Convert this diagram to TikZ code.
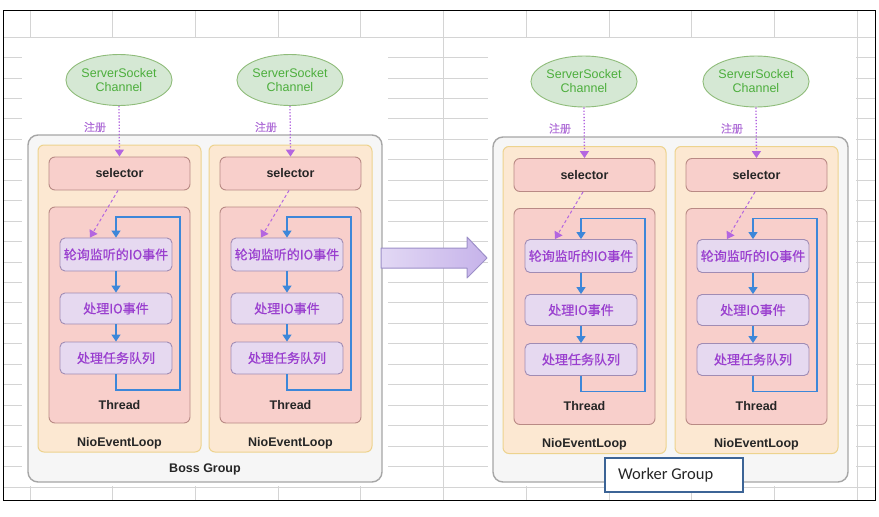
\documentclass[tikz,border=0pt]{standalone}
\usepackage{fontspec}
\setmainfont{Liberation Sans}
\newfontfamily\cjk[FakeBold=0.8]{Noto Sans CJK SC}
\newfontfamily\calfont{Carlito}
\usetikzlibrary{arrows.meta,shapes.geometric}
\definecolor{gridc}{HTML}{D4D4D4}
\definecolor{grpfill}{HTML}{F6F6F6}
\definecolor{grpdraw}{HTML}{A6A6A6}
\definecolor{niofill}{HTML}{FCE8D2}
\definecolor{niodraw}{HTML}{EDD38E}
\definecolor{redfill}{HTML}{F8CFCB}
\definecolor{reddraw}{HTML}{B98A85}
\definecolor{lavfill}{HTML}{E6D9F0}
\definecolor{lavdraw}{HTML}{A08CB4}
\definecolor{purtext}{HTML}{9A3FCF}
\definecolor{regtext}{HTML}{B070D8}
\definecolor{bluec}{HTML}{3D87D9}
\definecolor{dashc}{HTML}{B366E0}
\definecolor{ellfill}{HTML}{D5E8D4}
\definecolor{elldraw}{HTML}{8FBC7A}
\definecolor{elltext}{HTML}{4CAE3C}
\definecolor{arrl}{HTML}{E2D8F4}
\definecolor{arrr}{HTML}{C6B3EA}
\definecolor{arrd}{HTML}{9C8FC8}
\definecolor{wgdraw}{HTML}{3C6496}
\tikzset{
  group/.style={draw=grpdraw,fill=grpfill,line width=1.4pt,rounded corners=10pt,inner sep=0pt},
  niobox/.style={draw=niodraw,fill=niofill,line width=1pt,rounded corners=6pt,inner sep=0pt},
  redbox/.style={draw=reddraw,fill=redfill,line width=0.9pt,rounded corners=6pt,inner sep=0pt},
  lavbox/.style={draw=lavdraw,fill=lavfill,line width=0.9pt,rounded corners=5pt,inner sep=0pt,
    font=\cjk\fontsize{13}{15}\selectfont,text=purtext},
  chan/.style={ellipse,draw=elldraw,fill=ellfill,line width=0.9pt,inner sep=0pt,
    minimum width=95pt,minimum height=51pt,align=center,text=elltext,
    font=\fontsize{12.5}{14}\selectfont},
  boldlbl/.style={font=\bfseries\fontsize{12.5}{14}\selectfont,text=black!85,inner sep=0pt},
  reglbl/.style={font=\cjk\fontsize{11}{13}\selectfont,text=regtext,inner sep=0pt},
  bluearr/.style={draw=bluec,line width=1.1pt,-{Triangle[length=7pt,width=9pt]}},
  dasharr/.style={draw=dashc,line width=1pt,dash pattern=on 3pt off 2.5pt,-{Triangle[length=7pt,width=9pt]}},
  dotarr/.style={draw=dashc,line width=1.3pt,dash pattern=on 1.3pt off 1.8pt,-{Triangle[length=7pt,width=9pt]}},
}
\newcommand\nioloop[3]{%
\begin{scope}[shift={(#2,#3)}]
  \node[niobox,minimum width=163pt,minimum height=307pt] (#1nio) at (81.5,298.5) {};
  \node[redbox,minimum width=141pt,minimum height=33pt,boldlbl] (#1sel) at (81.5,173.5) {selector};
  \node[redbox,minimum width=141pt,minimum height=216pt] (#1thr) at (81.5,315) {};
  \node[lavbox,minimum width=112pt,minimum height=33pt] (#1p) at (78,254.5) {轮询监听的IO事件};
  \node[lavbox,minimum width=112pt,minimum height=31pt] (#1q) at (78,308.5) {处理IO事件};
  \node[lavbox,minimum width=112pt,minimum height=32pt] (#1r) at (78,358) {处理任务队列};
  \node[boldlbl] (#1thl) at (81.5,405) {Thread};
  \node[boldlbl] (#1niol) at (81.5,443) {NioEventLoop};
  \node[chan] (#1ch) at (81,80) {ServerSocket\\Channel};
  \node[reglbl] (#1reg) at (57,127) {注册};
  \draw[dotarr] (#1ch.south) -- (#1sel.north);
  \draw[dasharr] ([xshift=-1.5pt]#1sel.south) -- ([xshift=-26pt]#1p.north);
  \draw[bluearr] (#1p.south) -- (#1q.north);
  \draw[bluearr] (#1q.south) -- (#1r.north);
  \draw[bluearr] (#1r.south) -- (#1r.south |- 0,390) -| (142,217) -| (#1p.north);
\end{scope}}
\begin{document}
\begin{tikzpicture}[x=1pt,y=-1pt]
\useasboundingbox (0,0) rectangle (879,517);
\fill[white] (0,0) rectangle (879,517);
% spreadsheet grid
\foreach \k in {0,...,22} \draw[gridc,line width=0.8pt] (3,37+20.45*\k) -- (875,37+20.45*\k);
\foreach \k in {0,...,10} \draw[gridc,line width=0.8pt] (30+82.7*\k,10) -- (30+82.7*\k,500);
\fill[white] (22,38) rectangle (388,486);
\fill[white] (488,38) rectangle (856,486);
\draw[black,line width=1pt] (3,10) rectangle (875,500);
% groups
\node[group,minimum width=354pt,minimum height=347pt] (boss) at (205,308.5) {};
\node[group,minimum width=355pt,minimum height=345pt] (worker) at (670.5,309.5) {};
\nioloop{a}{38}{0}
\nioloop{b}{209}{0}
\nioloop{c}{503}{1.5}
\nioloop{d}{675}{1.5}
\node[boldlbl] (bossl) at (205,469) {Boss Group};
\node[draw=wgdraw,fill=white,line width=1.5pt,minimum width=138pt,minimum height=34pt,inner sep=0pt] (workerl) at (674,475) {};
\node[anchor=west,inner sep=0pt,font=\calfont\fontsize{16.5}{18}\selectfont,text=black!85] (workert) at (618,475) {Worker Group};
% big arrow
\shade[left color=arrl,right color=arrr,draw=arrd,line width=1pt,line join=round]
  (381,248) -- (467,248) -- (467,237) -- (487,258) -- (467,278) -- (467,268) -- (381,268) -- cycle;
\end{tikzpicture}
\end{document}
